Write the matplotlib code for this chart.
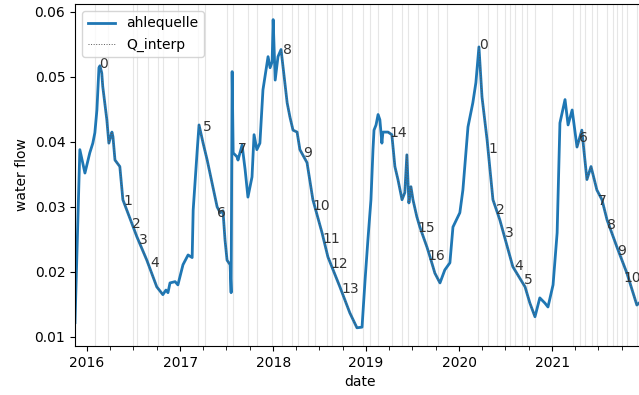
import matplotlib
matplotlib.use("Agg")
import matplotlib.pyplot as plt
import matplotlib.dates as mdates
import numpy as np
import pandas as pd

# discharge series
dates = [
    "2015-11-15", "2015-12-04", "2015-12-24", "2016-01-12", "2016-01-24", "2016-02-01",
    "2016-02-09", "2016-02-17", "2016-02-21", "2016-02-28", "2016-03-03", "2016-03-19",
    "2016-03-27", "2016-04-08", "2016-04-12", "2016-04-20", "2016-05-09", "2016-05-21",
    "2016-06-25", "2016-07-15", "2016-08-23", "2016-10-01", "2016-10-25", "2016-11-06",
    "2016-11-14", "2016-11-22", "2016-12-12", "2016-12-23", "2017-01-12", "2017-02-01",
    "2017-02-17", "2017-02-21", "2017-03-09", "2017-03-16", "2017-04-01", "2017-04-17",
    "2017-05-06", "2017-05-26", "2017-06-07", "2017-06-18", "2017-06-26", "2017-07-04",
    "2017-07-16", "2017-07-20", "2017-07-24", "2017-07-28", "2017-08-12", "2017-08-16",
    "2017-09-01", "2017-09-13", "2017-09-24", "2017-10-10", "2017-10-18", "2017-10-29",
    "2017-11-10", "2017-11-22", "2017-12-04", "2017-12-12", "2017-12-20", "2017-12-28",
    "2018-01-01", "2018-01-09", "2018-01-20", "2018-02-01", "2018-02-25", "2018-03-08",
    "2018-03-20", "2018-04-05", "2018-04-16", "2018-05-14", "2018-06-06", "2018-07-12",
    "2018-08-04", "2018-09-20", "2018-10-29", "2018-11-26", "2018-12-16", "2018-12-28",
    "2019-01-08", "2019-01-20", "2019-01-28", "2019-02-01", "2019-02-09", "2019-02-17",
    "2019-02-24", "2019-03-04", "2019-03-08", "2019-03-28", "2019-04-12", "2019-04-24",
    "2019-05-06", "2019-05-22", "2019-06-02", "2019-06-10", "2019-06-18", "2019-06-26",
    "2019-07-04", "2019-07-19", "2019-07-31", "2019-08-28", "2019-09-09", "2019-09-28",
    "2019-10-18", "2019-11-06", "2019-11-26", "2019-12-08", "2020-01-04", "2020-01-16",
    "2020-02-05", "2020-02-24", "2020-03-07", "2020-03-19", "2020-03-31", "2020-04-20",
    "2020-05-13", "2020-06-09", "2020-07-30", "2020-09-16", "2020-10-05", "2020-10-25",
    "2020-11-13", "2020-12-03", "2020-12-15", "2021-01-04", "2021-01-20", "2021-01-31",
    "2021-02-20", "2021-03-04", "2021-03-20", "2021-04-08", "2021-04-27", "2021-05-17",
    "2021-06-02", "2021-06-25", "2021-07-15", "2021-08-04", "2021-09-12", "2021-10-21",
    "2021-11-29", "2021-12-31",
]
flow = [
    0.0122, 0.0388, 0.0352, 0.0383, 0.0398, 0.0414,
    0.0449, 0.0514, 0.0517, 0.0506, 0.0485, 0.0434,
    0.0398, 0.0415, 0.0408, 0.0372, 0.0362, 0.0311,
    0.0275, 0.0254, 0.0218, 0.0177, 0.0165, 0.0172,
    0.0168, 0.0183, 0.0185, 0.0180, 0.0211, 0.0226,
    0.0222, 0.0295, 0.0388, 0.0426, 0.0398, 0.0372,
    0.0337, 0.0300, 0.0291, 0.0294, 0.0249, 0.0218,
    0.0211, 0.0168, 0.0508, 0.0383, 0.0377, 0.0372,
    0.0395, 0.0357, 0.0315, 0.0346, 0.0411, 0.0388,
    0.0398, 0.0480, 0.0511, 0.0531, 0.0514, 0.0523,
    0.0588, 0.0495, 0.0531, 0.0542, 0.0460, 0.0438,
    0.0418, 0.0415, 0.0388, 0.0368, 0.0311, 0.0260,
    0.0223, 0.0177, 0.0137, 0.0114, 0.0115, 0.0188,
    0.0249, 0.0311, 0.0388, 0.0418, 0.0426, 0.0442,
    0.0434, 0.0398, 0.0415, 0.0415, 0.0411, 0.0362,
    0.0342, 0.0311, 0.0322, 0.0380, 0.0306, 0.0331,
    0.0311, 0.0285, 0.0269, 0.0238, 0.0223, 0.0198,
    0.0183, 0.0203, 0.0214, 0.0269, 0.0291, 0.0326,
    0.0423, 0.0460, 0.0491, 0.0546, 0.0469, 0.0403,
    0.0311, 0.0280, 0.0208, 0.0177, 0.0152, 0.0131,
    0.0160, 0.0152, 0.0146, 0.0180, 0.0260, 0.0429,
    0.0465, 0.0426, 0.0449, 0.0392, 0.0418, 0.0342,
    0.0362, 0.0326, 0.0311, 0.0280, 0.0238, 0.0198,
    0.0149, 0.0160,
]

# recession periods that carry the interpolated series
recession_start = ["2016-02-21", "2017-03-16", "2018-02-01", "2019-03-28", "2020-03-19", "2021-04-08"]
recession_end = ["2016-10-25", "2017-07-16", "2018-11-26", "2019-10-18", "2020-10-25", "2021-12-31"]

# numbered markers (first and second run)
label_dates_a = [
    "2016-02-17", "2016-05-25", "2016-06-25", "2016-07-23", "2016-09-04", "2017-04-01",
    "2017-05-26", "2017-08-16", "2018-02-09", "2018-04-28", "2018-06-06", "2018-07-12",
    "2018-08-12", "2018-09-28", "2019-04-01", "2019-07-23", "2019-08-28",
]
label_values_a = [
    0.0514, 0.0303, 0.0268, 0.0243, 0.0208, 0.0417,
    0.0285, 0.0383, 0.0535, 0.0377, 0.0295, 0.0245,
    0.0206, 0.0168, 0.0408, 0.0262, 0.0218,
]
label_dates_b = [
    "2020-03-19", "2020-04-24", "2020-05-26", "2020-06-30", "2020-08-04", "2020-09-12",
    "2021-04-16", "2021-06-29", "2021-08-04", "2021-09-12", "2021-10-09",
]
label_values_b = [
    0.0543, 0.0383, 0.0289, 0.0254, 0.0203, 0.0182,
    0.0400, 0.0303, 0.0266, 0.0226, 0.0185,
]

# dates of the thin vertical marker lines
vline_dates = [
    "2016-02-01", "2016-03-23", "2016-06-29", "2016-07-15", "2016-08-27", "2016-10-05",
    "2016-10-25", "2016-12-23", "2017-03-12", "2017-04-09", "2017-07-04", "2017-07-28",
    "2017-09-24", "2017-10-29", "2017-12-28", "2018-02-05", "2018-03-16", "2018-04-09",
    "2018-05-18", "2018-06-14", "2018-07-31", "2018-08-20", "2018-09-28", "2018-11-06",
    "2018-12-19", "2019-01-16", "2019-02-17", "2019-04-12", "2019-05-22", "2019-06-14",
    "2019-07-23", "2019-08-28", "2019-10-10", "2019-11-14", "2020-03-15", "2020-04-24",
    "2020-05-30", "2020-06-30", "2020-07-20", "2020-08-08", "2020-09-04", "2020-09-23",
    "2020-10-25", "2020-12-31", "2021-03-24", "2021-04-20", "2021-05-10", "2021-06-06",
    "2021-06-25", "2021-08-04", "2021-08-27", "2021-09-12", "2021-10-02", "2021-10-21",
    "2021-11-29",
]

t = pd.to_datetime(dates)
q = pd.Series(flow, index=t)
q_interp = pd.Series(np.nan, index=t)
for s, e in zip(recession_start, recession_end):
    mask = (t >= pd.Timestamp(s)) & (t <= pd.Timestamp(e))
    q_interp[mask] = q[mask]

fig = plt.figure(figsize=(6.39, 3.95), dpi=100)
ax = fig.add_axes([75 / 639, 49 / 395, 570 / 639, 342 / 395])

for d in vline_dates:
    ax.axvline(pd.Timestamp(d), color="0.9", lw=0.8, zorder=0)

ax.plot(q.index, q.values, color="#1f77b4", lw=2, label="ahlequelle")
ax.plot(q_interp.index, q_interp.values, color="0.35", lw=0.7, ls=":", label="Q_interp")

for i, (d, v) in enumerate(zip(label_dates_a, label_values_a)):
    ax.text(pd.Timestamp(d), v, str(i), fontsize=10, color="0.2")
for i, (d, v) in enumerate(zip(label_dates_b, label_values_b)):
    ax.text(pd.Timestamp(d), v, str(i), fontsize=10, color="0.2")

ax.set_xlim(t[0], t[-1])
ax.set_ylim(0.0086, 0.0612)
ax.set_yticks([0.01, 0.02, 0.03, 0.04, 0.05, 0.06])
ax.xaxis.set_major_locator(mdates.YearLocator())
ax.xaxis.set_major_formatter(mdates.DateFormatter("%Y"))
ax.xaxis.set_minor_locator(mdates.MonthLocator(bymonth=[4, 7, 10]))
ax.tick_params(axis="x", which="minor", length=3)

ax.set_xlabel("date")
ax.set_ylabel("water flow")
ax.legend(loc="upper left")

fig.savefig("out.png", dpi=100)
